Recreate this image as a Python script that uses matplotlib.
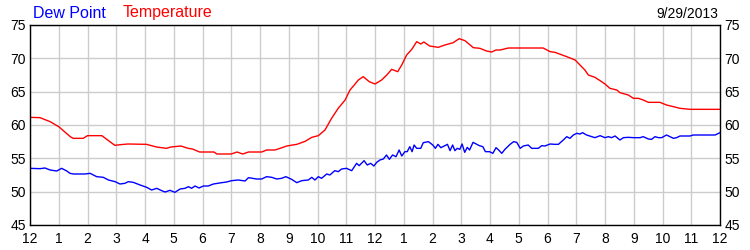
import matplotlib
matplotlib.use("Agg")
import matplotlib.pyplot as plt

# readings for 9/29/2013, hours after midnight
temp_hours = [0, 0.35, 0.7, 1.0, 1.4, 1.5, 1.85, 2.0, 2.5, 2.95, 3.15, 3.4, 4.05, 4.4, 4.75, 4.9,
              5.25, 5.5, 5.65, 5.9, 6.4, 6.5, 7.0, 7.2, 7.4, 7.6, 8.06, 8.23, 8.52, 8.7, 8.93,
              9.28, 9.57, 9.8, 10.03, 10.26, 10.49, 10.72, 10.96, 11.13, 11.25, 11.42, 11.59,
              11.8, 12.0, 12.23, 12.41, 12.58, 12.79, 12.93, 13.1, 13.28, 13.45, 13.59, 13.7,
              13.9, 14.2, 14.43, 14.72, 14.93, 15.13, 15.42, 15.65, 15.88, 16.06, 16.21, 16.35,
              16.64, 17.85, 18.09, 18.26, 18.67, 18.96, 19.13, 19.3, 19.42, 19.65, 19.83, 20.0,
              20.17, 20.41, 20.52, 20.81, 20.99, 21.16, 21.33, 21.51, 21.91, 22.14, 22.38,
              22.61, 22.96, 24.0]
temp = [61.15, 61.1, 60.5, 59.75, 58.25, 58.0, 58.0, 58.4, 58.4, 56.95, 57.05, 57.15, 57.1,
        56.7, 56.5, 56.7, 56.85, 56.5, 56.4, 55.95, 55.95, 55.65, 55.65, 55.95, 55.65, 55.95,
        55.95, 56.25, 56.25, 56.5, 56.85, 57.1, 57.55, 58.15, 58.4, 59.25, 61.0, 62.5, 63.75,
        65.25, 65.85, 66.75, 67.25, 66.5, 66.15, 66.75, 67.5, 68.35, 68.0, 69.0, 70.5, 71.35,
        72.5, 72.15, 72.45, 71.85, 71.65, 72.0, 72.35, 72.95, 72.65, 71.6, 71.5, 71.1, 70.95,
        71.25, 71.25, 71.55, 71.55, 71.0, 70.9, 70.25, 69.75, 69.0, 68.25, 67.5, 67.15, 66.65,
        66.15, 65.5, 65.25, 64.85, 64.5, 64.0, 64.0, 63.75, 63.4, 63.4, 63.0, 62.75, 62.5,
        62.35, 62.35]

dew_hours = [0, 0.35, 0.52, 0.7, 0.93, 1.1, 1.28, 1.39, 1.51, 1.91, 2.09, 2.32, 2.55, 2.73,
             2.96, 3.13, 3.3, 3.42, 3.59, 3.83, 4.06, 4.23, 4.41, 4.58, 4.7, 4.87, 5.04, 5.22,
             5.39, 5.51, 5.62, 5.74, 5.88, 6.03, 6.2, 6.38, 6.67, 6.84, 7.01, 7.25, 7.48, 7.6,
             7.88, 8.06, 8.23, 8.41, 8.58, 8.75, 8.9, 9.1, 9.28, 9.45, 9.68, 9.8, 9.91, 10.03,
             10.14, 10.32, 10.43, 10.6, 10.72, 10.84, 11.01, 11.19, 11.36, 11.45, 11.62, 11.73,
             11.85, 11.96, 12.06, 12.17, 12.29, 12.4, 12.5, 12.61, 12.73, 12.84, 12.93, 13.04,
             13.12, 13.21, 13.29, 13.36, 13.45, 13.59, 13.68, 13.86, 14.01, 14.1, 14.19, 14.29,
             14.41, 14.52, 14.61, 14.7, 14.78, 14.86, 14.95, 15.03, 15.12, 15.21, 15.29, 15.41,
             15.52, 15.63, 15.75, 15.84, 15.98, 16.1, 16.21, 16.3, 16.41, 16.52, 16.7, 16.82,
             16.93, 17.05, 17.16, 17.33, 17.45, 17.68, 17.8, 17.91, 18.09, 18.26, 18.38, 18.55,
             18.67, 18.78, 18.9, 19.02, 19.13, 19.22, 19.36, 19.54, 19.65, 19.83, 20.0, 20.12,
             20.23, 20.35, 20.52, 20.64, 20.81, 20.99, 21.22, 21.33, 21.51, 21.62, 21.74, 21.86,
             21.97, 22.14, 22.26, 22.38, 22.49, 22.61, 22.96, 23.07, 23.83, 24.0]
dew = [53.5, 53.45, 53.55, 53.25, 53.1, 53.5, 53.1, 52.75, 52.65, 52.65, 52.75, 52.25, 52.15,
       51.75, 51.5, 51.15, 51.25, 51.5, 51.4, 51.0, 50.65, 50.25, 50.5, 50.15, 49.95, 50.2,
       49.9, 50.4, 50.5, 50.75, 50.5, 50.85, 50.55, 50.85, 50.85, 51.15, 51.35, 51.45, 51.65,
       51.75, 51.6, 52.1, 51.9, 51.9, 52.25, 52.15, 51.9, 52.0, 52.25, 51.85, 51.35, 51.65,
       51.75, 52.15, 51.75, 52.25, 52.0, 52.65, 52.5, 53.15, 53.0, 53.4, 53.5, 53.15, 54.25,
       53.9, 54.65, 54.0, 54.25, 53.85, 54.4, 54.75, 54.9, 55.5, 54.85, 55.5, 55.25, 56.25,
       55.35, 56.0, 56.0, 56.75, 56.0, 57.0, 56.5, 56.5, 57.35, 57.5, 57.0, 56.5, 57.1, 56.6,
       56.85, 57.1, 56.15, 57.0, 56.15, 56.5, 56.35, 57.15, 55.9, 56.65, 56.25, 57.4, 57.15,
       56.9, 56.75, 56.0, 56.0, 55.75, 56.6, 56.25, 55.75, 56.35, 57.1, 57.5, 57.4, 56.5,
       56.85, 57.0, 56.5, 56.5, 56.9, 56.85, 57.15, 57.1, 57.1, 57.75, 58.25, 58.0, 58.5,
       58.75, 58.65, 58.85, 58.5, 58.25, 58.1, 58.4, 58.1, 58.25, 58.1, 58.35, 57.75, 58.1,
       58.15, 58.1, 58.1, 58.25, 57.9, 57.85, 58.25, 58.1, 58.1, 58.5, 58.25, 58.0, 58.1,
       58.35, 58.35, 58.5, 58.5, 58.85]

hour_labels = ["12", "1", "2", "3", "4", "5", "6", "7", "8", "9", "10", "11"] * 2 + ["12"]
y_ticks = [45, 50, 55, 60, 65, 70, 75]

plt.rcParams['font.family'] = ['Liberation Sans', 'DejaVu Sans']

fig = plt.figure(figsize=(7.5, 2.5), dpi=100)
ax = fig.add_axes([0.04, 0.1, 0.92, 0.8])

ax.plot(temp_hours, temp, color="#ff0000", linewidth=1.0)
ax.plot(dew_hours, dew, color="#0000ff", linewidth=1.0)

ax.set_xlim(0, 24)
ax.set_ylim(45, 75)
ax.set_xticks(range(25))
ax.set_xticklabels(hour_labels)
ax.set_yticks(y_ticks)
ax.grid(True, color="#cccccc", linewidth=1.0)
ax.set_axisbelow(True)
ax.tick_params(axis="both", length=0, labelsize=10, colors="black")
ax.tick_params(axis="x", pad=5)
ax.tick_params(axis="y", pad=3, labelleft=True, labelright=True)
for s in ax.spines.values():
    s.set_color("black")
    s.set_linewidth(1.0)

fig.text(33 / 750, 1 - 13 / 250, "Dew Point", color="#0000ff", fontsize=11.5, va="center", ha="left")
fig.text(123 / 750, 1 - 13 / 250, "Temperature", color="#ff0000", fontsize=11.5, va="center", ha="left")
fig.text(718 / 750, 1 - 14 / 250, "9/29/2013", color="black", fontsize=10, va="center", ha="right")

fig.savefig("out.png", dpi=100)
